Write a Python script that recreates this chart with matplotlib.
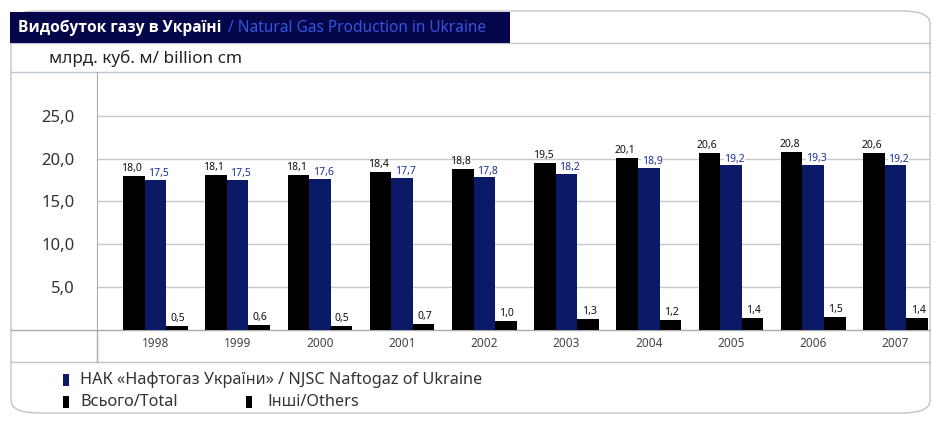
import numpy as np
import matplotlib
matplotlib.use("Agg")
from matplotlib import pyplot as plt
from matplotlib.patches import Rectangle, FancyBboxPatch
from matplotlib.lines import Line2D

plt.rcParams['font.family'] = ['Noto Sans', 'DejaVu Sans']

years = ['1998', '1999', '2000', '2001', '2002', '2003', '2004', '2005', '2006', '2007']
total = [18.0, 18.1, 18.1, 18.4, 18.8, 19.5, 20.1, 20.6, 20.8, 20.6]
naftogaz = [17.5, 17.5, 17.6, 17.7, 17.8, 18.2, 18.9, 19.2, 19.3, 19.2]
others = [0.5, 0.6, 0.5, 0.7, 1.0, 1.3, 1.2, 1.4, 1.5, 1.4]
yticks = [5, 10, 15, 20, 25]

NAVY = '#0b1a66'
W, H = 934, 421


def fx(x):
    return x / W


def fy(y):
    return 1 - y / H


def hline(fig, y, x0, x1, color='#c0c4cc', lw=1.0):
    fig.add_artist(Line2D([fx(x0), fx(x1)], [fy(y), fy(y)], color=color, lw=lw,
                          transform=fig.transFigure, zorder=2))


def fmt(v):
    return ('%.1f' % v).replace('.', ',')


fig = plt.figure(figsize=(9.34, 4.21), dpi=100)

# outer frame
frame = FancyBboxPatch((fx(11), fy(413)), fx(930) - fx(11), fy(11) - fy(413),
                       boxstyle='round,pad=0,rounding_size=0.03',
                       transform=fig.transFigure, facecolor='white',
                       edgecolor='#c0c4cc', lw=1.0, zorder=-5)
fig.add_artist(frame)

# title bar
fig.add_artist(Rectangle((fx(10), fy(43)), fx(510) - fx(10), fy(12) - fy(43),
                         transform=fig.transFigure, facecolor='#06064a', edgecolor='none',
                         zorder=3))
fig.text(fx(18), fy(28), 'Видобуток газу в Україні', color='white', fontsize=11.2,
         fontweight='bold', va='center', ha='left',
         family=['Open Sans', 'DejaVu Sans'], zorder=4)
fig.text(fx(228), fy(28), '/ Natural Gas Production in Ukraine', color='#3355dd',
         fontsize=11.1, va='center', ha='left', zorder=4)

hline(fig, 43, 11, 930)
hline(fig, 72, 11, 930)
hline(fig, 362, 11, 930)
fig.text(fx(49), fy(58), 'млрд. куб. м/ billion cm', fontsize=12.3, color='#222222',
         va='center', ha='left')

# plot area
ax = fig.add_axes([fx(97), fy(330), fx(930) - fx(97), fy(72) - fy(330)])
ax.set_zorder(5)
x = np.arange(len(years))
bw = 0.262
ax.bar(x - bw, total, bw, color='black', zorder=3)
ax.bar(x, naftogaz, bw, color=NAVY, zorder=3)
ax.bar(x + bw, others, bw, color='black', zorder=3)

for i in range(len(years)):
    ax.text(x[i] - bw * 1.1, total[i] + 0.25, fmt(total[i]), fontsize=7.5, ha='center',
            va='bottom', color='#111111', zorder=4)
    ax.text(x[i] + bw * 0.15, naftogaz[i] + 0.1, fmt(naftogaz[i]), fontsize=7.5,
            ha='center', va='bottom', color='#1a2f99', zorder=4,
            bbox=dict(facecolor='white', edgecolor='none', pad=0.3))
    ax.text(x[i] + bw * 0.7, others[i] + 0.25, fmt(others[i]), fontsize=7.5, ha='left',
            va='bottom', color='#111111', zorder=4)
    ax.text(x[i], -1.55, years[i], fontsize=8.5, ha='center', va='center',
            color='#444444', clip_on=False)

ax.set_xlim(-0.71, 9.42)
ax.set_ylim(0, 30.1)
ax.set_yticks(yticks)
ax.set_yticklabels([fmt(v) for v in yticks], fontsize=12, color='#333333')
ax.set_xticks([])
ax.tick_params(axis='y', length=0, pad=16)
ax.grid(axis='y', color='#c8c8c8', lw=1.0, zorder=0)
for s in ['top', 'right', 'bottom']:
    ax.spines[s].set_visible(False)
ax.spines['left'].set_color('#b5a8a8')
ax.patch.set_alpha(0)

hline(fig, 330, 11, 930, color='#aaaaaa')
fig.add_artist(Line2D([fx(97), fx(97)], [fy(330), fy(362)], color='#b5a8a8', lw=1.0,
                      transform=fig.transFigure))

# legend
fig.add_artist(Rectangle((fx(63), fy(386)), 6 / W, 12 / H, transform=fig.transFigure,
                         facecolor=NAVY, edgecolor='none'))
fig.text(fx(80), fy(380), 'НАК «Нафтогаз України» / NJSC Naftogaz of Ukraine',
         fontsize=11.7, color='#333333', va='center', ha='left')
fig.add_artist(Rectangle((fx(63), fy(408)), 6 / W, 12 / H, transform=fig.transFigure,
                         facecolor='black', edgecolor='none'))
fig.text(fx(80), fy(402), 'Всього/Total', fontsize=11.7, color='#333333',
         va='center', ha='left')
fig.add_artist(Rectangle((fx(246), fy(408)), 6 / W, 12 / H, transform=fig.transFigure,
                         facecolor='black', edgecolor='none'))
fig.text(fx(267), fy(402), 'Інші/Others', fontsize=11.7, color='#333333',
         va='center', ha='left')

fig.savefig('out.png', dpi=100)
